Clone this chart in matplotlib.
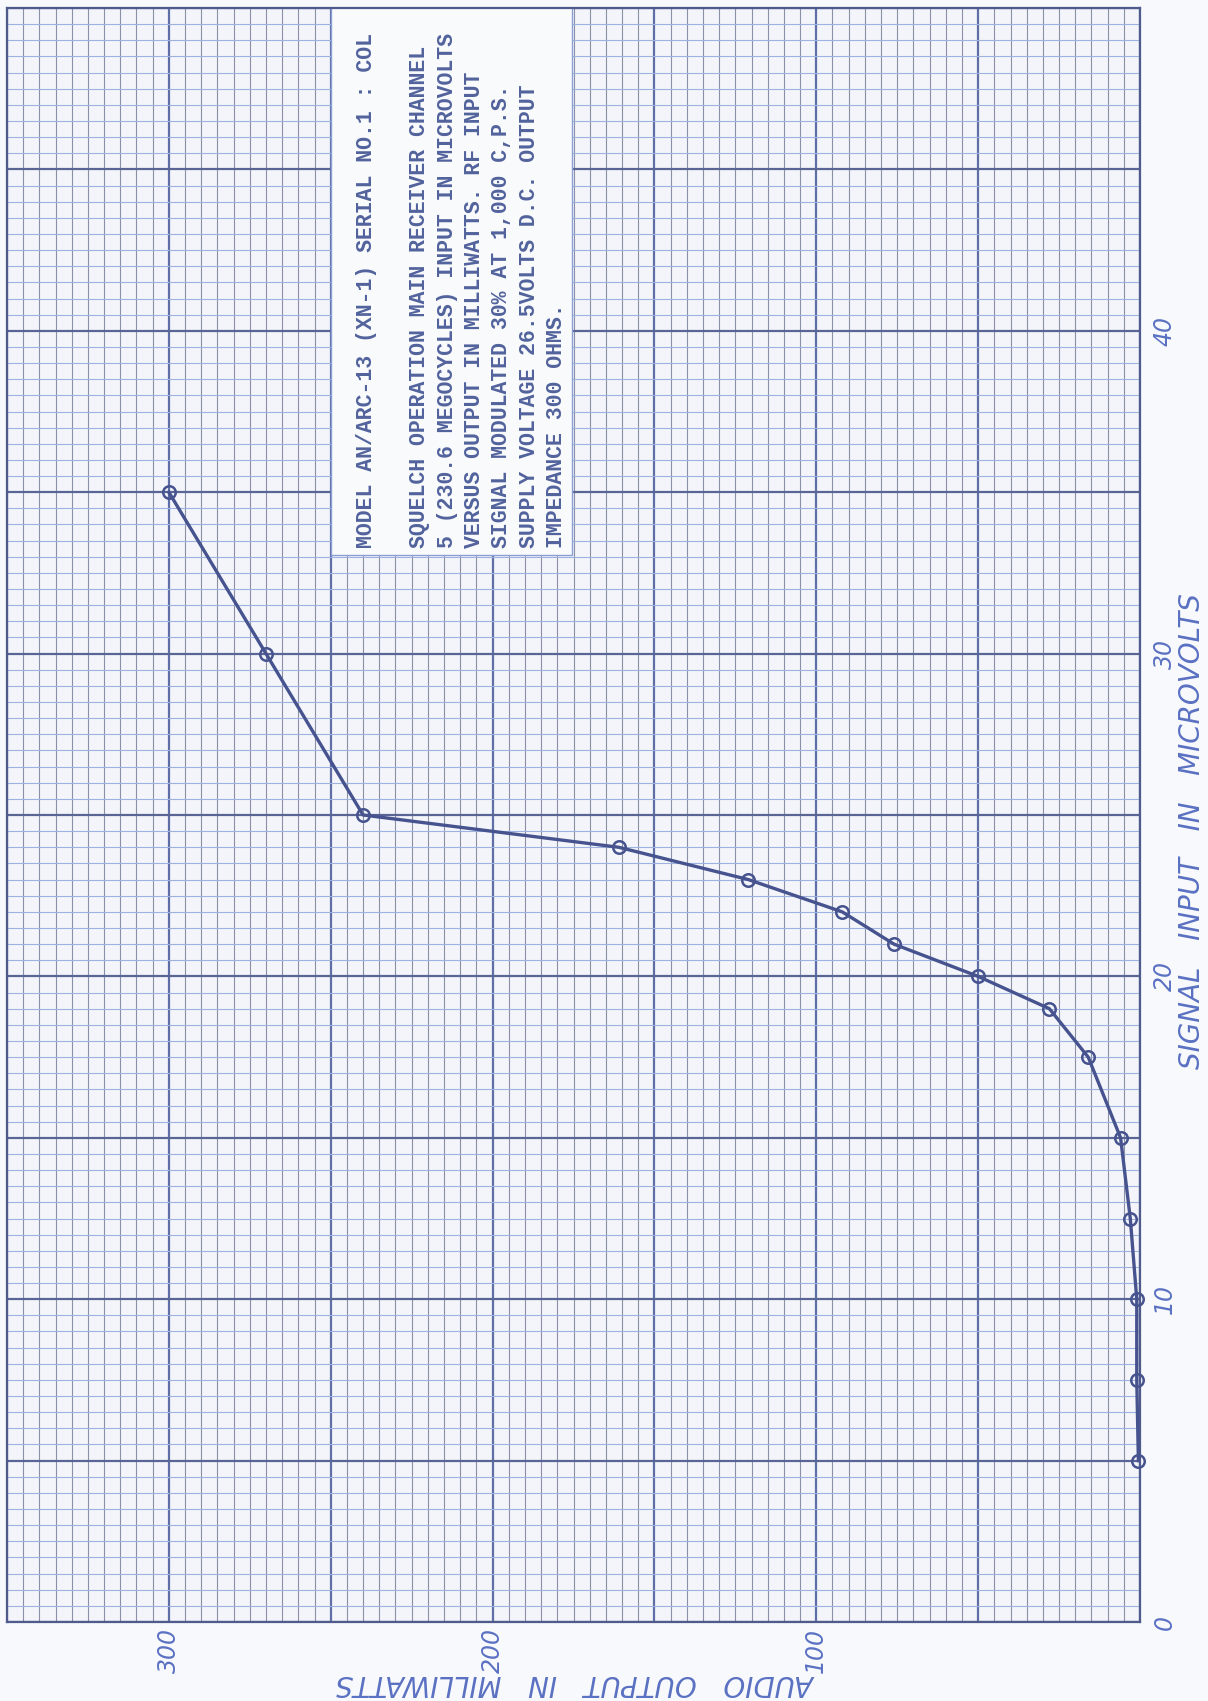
import numpy as np
import matplotlib
matplotlib.use('Agg')
import matplotlib.pyplot as plt
from matplotlib.patches import Rectangle
from matplotlib.ticker import MultipleLocator, FuncFormatter

# readings off the sheet: signal input (microvolts) vs audio output (milliwatts)
signal_uv = [5, 7.5, 10, 12.5, 15, 17.5, 19, 20, 21, 22, 23, 24, 25, 30, 35]
output_mw = [0.5, 1, 1, 3, 6, 16, 28, 50, 76, 92, 121, 161, 240, 270, 300]

box_lines = [
    "MODEL AN/ARC-13 (XN-1) SERIAL NO.1 : COL",
    "SQUELCH OPERATION MAIN RECEIVER CHANNEL",
    "5 (230.6 MEGOCYCLES) INPUT IN MICROVOLTS",
    "VERSUS OUTPUT IN MILLIWATTS. RF INPUT",
    "SIGNAL MODULATED 30% AT 1,000 C,P.S.",
    "SUPPLY VOLTAGE 26.5VOLTS D.C. OUTPUT",
    "IMPEDANCE 300 OHMS.",
]

ink = '#46538f'
pen = '#5a70c2'
typed = '#52629c'

fig = plt.figure(figsize=(12.08, 17.01), dpi=100, facecolor='#f8f9fc')
ax = fig.add_axes([7/1208, 1 - 1622/1701, 1133/1208, 1614/1701])
ax.set_facecolor('#f3f5fa')

ax.set_xlim(350, 0)
ax.set_ylim(0, 50)

# graph paper
ax.xaxis.set_major_locator(MultipleLocator(50))
ax.xaxis.set_minor_locator(MultipleLocator(5))
ax.yaxis.set_major_locator(MultipleLocator(5))
ax.yaxis.set_minor_locator(MultipleLocator(0.5))
ax.xaxis.grid(True, which='minor', color='#8a90a6', lw=0.8)
ax.yaxis.grid(True, which='minor', color='#9db2e0', lw=0.8)
ax.xaxis.grid(True, which='major', color='#5f6ea6', lw=1.6)
ax.yaxis.grid(True, which='major', color='#596594', lw=1.6)

ax.xaxis.set_major_formatter(FuncFormatter(lambda v, p: f'{int(v)}' if v % 100 == 0 and v > 0 else ''))
ax.yaxis.set_major_formatter(FuncFormatter(lambda v, p: f'{int(v)}' if v % 10 == 0 and v < 50 else ''))
ax.yaxis.tick_right()
ax.tick_params(which='both', length=0)
ax.tick_params(axis='x', labelrotation=90, pad=4, labelsize=17, labelcolor=pen)
ax.tick_params(axis='y', labelrotation=90, pad=9, labelsize=17, labelcolor=pen)
for lab in ax.get_xticklabels() + ax.get_yticklabels():
    lab.set_fontstyle('italic')
for lab in ax.get_xticklabels():
    lab.set_verticalalignment('top')
for lab in ax.get_yticklabels():
    lab.set_verticalalignment('center')
for s in ax.spines.values():
    s.set_color('#4f5b8c')
    s.set_linewidth(1.6)

# typed note pasted on the sheet
ax.add_patch(Rectangle((175.5, 33.05), 74.5, 17.5, facecolor='#f9fafc',
                       edgecolor='#8aa0d4', lw=1.0, zorder=2, clip_on=True))
ax.text(238.9, 33.27, box_lines[0], rotation=90, ha='center', va='bottom',
        family='Liberation Mono', fontsize=15.5, weight='bold', color=typed,
        zorder=3, clip_on=True)
for i, line in enumerate(box_lines[1:]):
    ax.text(222.5 - i * 8.45, 33.27, line, rotation=90, ha='center', va='bottom',
            family='Liberation Mono', fontsize=15.5, weight='bold', color=typed, zorder=3)

ax.plot(output_mw, signal_uv, color=ink, lw=2.4, marker='o', ms=9,
        mfc='none', mec=ink, mew=1.8, zorder=4, clip_on=False)

ax.yaxis.set_label_position('right')
ax.set_ylabel('SIGNAL   INPUT   IN   MICROVOLTS', rotation=90, fontsize=20,
              style='italic', color=pen)
ax.yaxis.set_label_coords(1.0455, 0.49)
ax.set_xlabel('AUDIO   OUTPUT   IN   MILLIWATTS', rotation=180, fontsize=20,
              style='italic', color=pen)
ax.xaxis.set_label_coords(0.503, -0.0375)
ax.xaxis.label.set_verticalalignment('center')
ax.yaxis.label.set_verticalalignment('center')

fig.savefig('out.png', dpi=100, facecolor=fig.get_facecolor())
